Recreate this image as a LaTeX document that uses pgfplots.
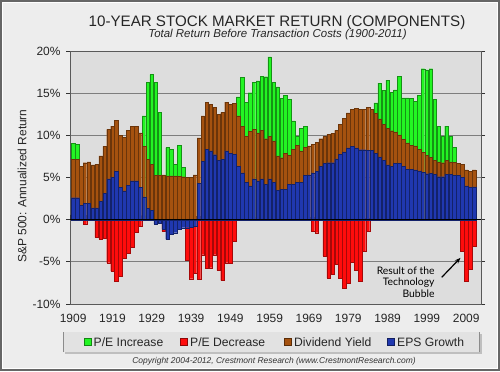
\documentclass[border=0pt]{standalone}
\usepackage{pgfplots}
\pgfplotsset{compat=1.18}
\usepackage{pgfplotstable}
\usepackage{fontspec}
\setmainfont{Liberation Sans}
\newfontfamily\annfont{Lato}
\usetikzlibrary{arrows.meta}
\definecolor{pegreen}{RGB}{35,245,35}
\definecolor{pered}{RGB}{255,12,12}
\definecolor{divbrown}{RGB}{165,82,15}
\definecolor{epsblue}{RGB}{32,56,176}
\definecolor{plotbg}{RGB}{221,221,221}
\definecolor{outerbg}{RGB}{237,237,237}
\definecolor{gridcol}{RGB}{125,125,125}
\definecolor{legbg}{RGB}{226,226,226}

% columns: year, EPS growth end (B), dividend top (D), P/E increase top (G), P/E decrease bottom (R)
\pgfplotstableread{
year B D G R
1909 2.6 7.15 9.05 nan
1910 2.6 7.15 8.9 nan
1911 1.7 6.35 nan nan
1912 1.9 6.75 nan -0.5
1913 1.9 6.85 nan nan
1914 1.4 6.5 nan nan
1915 1.4 6.55 nan -2.1
1916 2.2 7.55 nan -2.3
1917 3.1 8.7 nan -2.25
1918 4.85 10.7 nan -5.1
1919 5.05 11.1 nan -6.1
1920 5.7 11.8 nan -7.25
1921 3.8 10.0 nan -6.7
1922 3.4 9.8 nan -4.6
1923 4.1 10.6 nan -4.0
1924 4.6 11.1 nan -3.3
1925 4.6 11.1 nan -1.45
1926 3.8 10.3 nan -0.75
1927 2.7 8.7 12.3 nan
1928 1.35 7.15 16.25 nan
1929 1.1 6.55 17.2 nan
1930 -0.5 5.25 16.25 nan
1931 -0.4 5.25 12.7 nan
1932 -1.1 5.3 nan -1.4
1933 -2.35 5.2 8.55 nan
1934 -1.75 5.2 8.35 nan
1935 -1.55 5.2 6.55 nan
1936 -1.15 5.15 8.8 nan
1937 -0.95 5.1 6.2 nan
1938 -0.95 5.0 nan -4.85
1939 -0.9 5.0 nan -7.0
1940 -0.8 5.3 nan -6.3
1941 4.3 9.7 nan -7.1
1942 6.95 12.3 nan -4.15
1943 8.35 13.95 nan -5.75
1944 8.15 13.7 nan -5.7
1945 7.7 13.3 nan -4.15
1946 7.0 12.5 nan -6.0
1947 7.15 12.7 nan -7.2
1948 8.15 13.95 nan -5.1
1949 7.85 13.7 nan -5.2
1950 7.75 13.8 nan -2.55
1951 6.3 12.3 14.55 nan
1952 5.55 11.1 16.85 nan
1953 4.45 9.85 13.9 nan
1954 4.0 10.5 15.05 nan
1955 4.85 10.7 16.25 nan
1956 4.6 10.3 16.45 nan
1957 4.85 10.6 17.0 nan
1958 4.2 9.6 16.95 nan
1959 4.85 9.85 19.3 nan
1960 4.45 9.35 16.3 nan
1961 3.5 7.55 15.75 nan
1962 3.6 7.35 14.4 nan
1963 3.6 7.85 14.75 nan
1964 4.2 7.65 14.25 nan
1965 4.2 8.35 11.7 nan
1966 4.45 8.85 9.85 nan
1967 4.45 8.15 10.8 nan
1968 5.25 8.55 11.1 nan
1969 5.3 8.75 nan nan
1970 5.55 8.95 nan -1.35
1971 5.75 9.15 nan -1.55
1972 6.35 9.6 nan nan
1973 6.65 9.85 nan -4.3
1974 6.75 10.1 nan -6.9
1975 6.75 10.25 nan -6.5
1976 7.2 10.6 nan -5.3
1977 7.75 11.3 nan -6.9
1978 8.05 12.0 nan -8.1
1979 8.5 12.65 nan -7.5
1980 8.7 13.1 nan -5.05
1981 8.5 13.2 nan -6.0
1982 8.3 13.05 nan -7.3
1983 8.3 13.05 nan -3.7
1984 8.25 13.35 nan -1.35
1985 8.2 13.1 nan nan
1986 7.9 12.6 13.85 nan
1987 7.45 11.95 16.2 nan
1988 7.0 11.3 15.3 nan
1989 6.5 10.85 16.55 nan
1990 6.3 10.55 15.1 nan
1991 6.65 10.4 15.4 nan
1992 6.65 10.05 17.0 nan
1993 6.35 9.5 14.45 nan
1994 6.0 9.1 14.45 nan
1995 5.95 8.85 14.4 nan
1996 5.9 8.75 14.0 nan
1997 5.8 8.35 14.75 nan
1998 5.6 7.95 17.9 nan
1999 5.45 7.6 17.75 nan
2000 5.5 7.4 17.9 nan
2001 5.35 7.05 14.25 nan
2002 5.1 6.85 11.05 nan
2003 5.1 6.75 9.85 nan
2004 5.35 7.0 11.1 nan
2005 5.35 6.85 9.85 nan
2006 5.25 6.8 8.55 nan
2007 5.25 6.7 nan nan
2008 5.0 6.55 nan -3.7
2009 4.0 5.9 nan -7.3
2010 3.8 5.75 nan -5.9
2011 3.9 5.9 nan -3.1
}\data

\begin{document}
\begin{tikzpicture}
\begin{scope}[x=1bp,y=1bp]
% background and frame
\fill[outerbg] (0,0) rectangle (500,371);
\draw[black!60, line width=2bp] (1,1) rectangle (499,370);
\draw[white, line width=0.8bp] (2.6,2.6) rectangle (497.4,368.4);

% titles
\node[anchor=base, font=\fontsize{15.2}{18}\selectfont, text=black!85] at (277,345) {10-YEAR STOCK MARKET RETURN (COMPONENTS)};
\node[anchor=base, font=\fontsize{11.5}{14}\selectfont\itshape, text=black!85] at (277.5,333.5) {Total Return Before Transaction Costs (1900-2011)};
\end{scope}

\begin{axis}[
  at={(70bp,67bp)}, anchor=south west,
  width=411bp, height=253bp, scale only axis,
  xmin=1908.2, xmax=2012.78, ymin=-10, ymax=20,
  axis background/.style={fill=plotbg},
  axis line style={draw=black!65, line width=0.8bp},
  ytick={-10,-5,0,5,10,15,20},
  yticklabel={\pgfmathprintnumber{\tick}\%},
  ymajorgrids, grid style={draw=gridcol, line width=1bp},
  xtick={1909,1919,...,2009},
  x tick label style={/pgf/number format/1000 sep={}},
  /pgf/number format/assume math mode=true,
  tick label style={font=\fontsize{12}{14}\selectfont, text=black!85},
  xtick style={draw=none},
  ytick style={draw=black!80, line width=0.7bp},
  tick align=outside, major tick length=4bp,
  yticklabel style={xshift=-2bp},
  xticklabel style={yshift=-3bp},
]
% small year ticks below the zero line
\pgfplotsinvokeforeach{1909,1910,...,2012}{
  \draw[black!80, line width=0.5bp] ([xshift=-1.965bp]axis cs:#1,0) -- ++(0,-2.5bp);
}
\addplot[ybar, bar width=0.9, bar shift=0pt, fill=pegreen, draw=pegreen!60!black, line width=0.3bp] table[x=year, y=G] {\data};
\addplot[ybar, bar width=0.9, bar shift=0pt, fill=divbrown, draw=divbrown!65!black, line width=0.3bp] table[x=year, y=D] {\data};
\addplot[ybar, bar width=0.9, bar shift=0pt, fill=pered, draw=pered!65!black, line width=0.3bp] table[x=year, y=R] {\data};
\addplot[ybar, bar width=0.9, bar shift=0pt, fill=epsblue, draw=epsblue!60!black, line width=0.3bp] table[x=year, y=B] {\data};
\draw[black, line width=0.9bp] (axis cs:1908.2,0) -- (axis cs:2012.78,0);
\end{axis}

\begin{scope}[x=1bp,y=1bp]
% y label
\node[rotate=90, font=\fontsize{12}{14}\selectfont, text=black!85] at (22,185) {S\&P 500: Annualized Return};

% annotation
\node[anchor=base east, font=\annfont\fontsize{10.4}{12}\selectfont] at (438,97) {Result of the};
\node[anchor=base east, font=\annfont\fontsize{10.4}{12}\selectfont] at (438,85.5) {Technology};
\node[anchor=base east, font=\annfont\fontsize{10.4}{12}\selectfont] at (438,74) {Bubble};
\draw[black, line width=1.2bp, -{Stealth[length=6bp, width=4.5bp]}] (441.7,93.7) -- (460.5,113.2);

% legend
\fill[black!25] (64.5,17.5) rectangle (481.5,37.5);
\fill[legbg] (63,19) rectangle (480,39);
\draw[black!45, line width=1.5bp] (63.5,19) -- (63.5,39);
\draw[black!45, line width=1.5bp] (479.5,19) -- (479.5,39);
\foreach \col/\xs/\txt in {pegreen/84/{P/E Increase}, pered/180.5/{P/E Decrease}, divbrown/284.5/{Dividend Yield}, epsblue/387.5/{EPS Growth}}{
  \filldraw[fill=\col, draw=\col!55!black, line width=0.4bp] (\xs,25.5) rectangle ++(7,7);
  \node[anchor=base west, inner sep=0pt, font=\fontsize{12.2}{14}\selectfont, text=black!85] at (\xs+9.5,24.5) {\txt};
}

% copyright
\node[anchor=base, font=\fontsize{8.5}{10}\selectfont\itshape, text=black!80] at (274,7.5) {Copyright 2004-2012, Crestmont Research (www.CrestmontResearch.com)};
\end{scope}
\end{tikzpicture}
\end{document}
